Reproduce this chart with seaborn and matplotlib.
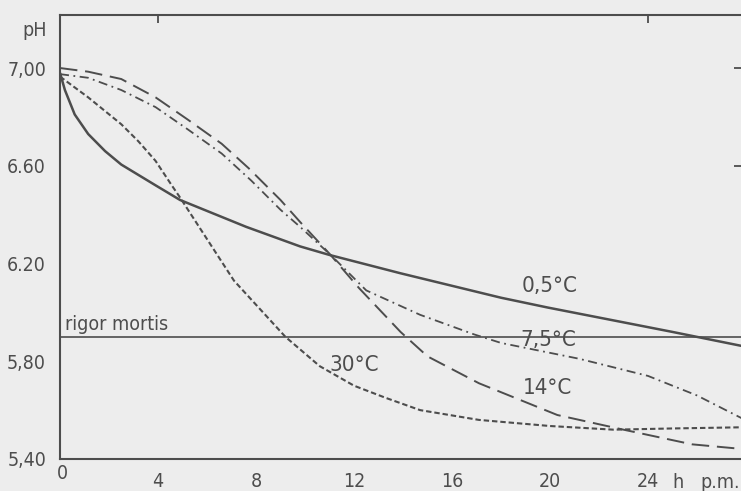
import matplotlib
matplotlib.use("Agg")
import matplotlib.pyplot as plt
import seaborn as sns
import pandas as pd

# --- data (hours post mortem, pH) ---
hours_05 = [0, 0.2, 0.6, 1.15, 1.84, 2.5, 3.9, 4.9, 7.6, 9.8, 11.0, 13.9, 18.0, 19.9, 25.0, 27.96]
ph_05 = [6.98, 6.91, 6.81, 6.73, 6.66, 6.605, 6.52, 6.46, 6.35, 6.27, 6.235, 6.16, 6.06, 6.02, 5.92, 5.86]

hours_75 = [0, 1.15, 2.5, 3.9, 5.2, 6.6, 7.8, 9.0, 9.8, 11.1, 12.5, 14.7, 16.9, 18.0, 21.2, 24.0, 26.0, 27.96]
ph_75 = [6.975, 6.96, 6.91, 6.84, 6.75, 6.65, 6.54, 6.42, 6.35, 6.23, 6.09, 5.99, 5.91, 5.875, 5.81, 5.74, 5.66, 5.56]

hours_14 = [0, 1.15, 2.5, 3.9, 5.2, 6.6, 7.7, 9.0, 9.8, 11.0, 12.2, 13.9, 15.0, 17.1, 20.3, 23.0, 25.8, 27.96]
ph_14 = [7.00, 6.985, 6.955, 6.88, 6.79, 6.69, 6.59, 6.46, 6.37, 6.24, 6.10, 5.92, 5.82, 5.71, 5.58, 5.52, 5.46, 5.44]

hours_30 = [0, 1.15, 2.5, 3.2, 3.9, 4.56, 4.9, 7.1, 9.2, 10.6, 12.0, 13.3, 14.7, 17.1, 20.0, 22.6, 25.0, 27.96]
ph_30 = [6.965, 6.88, 6.77, 6.70, 6.62, 6.52, 6.47, 6.13, 5.90, 5.78, 5.70, 5.65, 5.60, 5.56, 5.535, 5.52, 5.525, 5.53]

rigor_ph = 5.90

xticks = [0, 4, 8, 12, 16, 20, 24]
xtick_labels = ["0", "4", "8", "12", "16", "20", "24"]
yticks = [5.40, 5.80, 6.20, 6.60, 7.00]
ytick_labels = ["5,40", "5,80", "6.20", "6.60", "7,00"]

# curve labels: (text, x, y)
curve_labels = [("0,5°C", 18.85, 6.11), ("7,5°C", 18.8, 5.885),
                ("14°C", 18.9, 5.69), ("30°C", 11.0, 5.785)]

df = pd.concat([
    pd.DataFrame({"hours": hours_05, "ph": ph_05, "temp": "0.5"}),
    pd.DataFrame({"hours": hours_75, "ph": ph_75, "temp": "7.5"}),
    pd.DataFrame({"hours": hours_14, "ph": ph_14, "temp": "14"}),
    pd.DataFrame({"hours": hours_30, "ph": ph_30, "temp": "30"}),
])

ink = "#4d4d4d"
bg = "#ededed"

sns.set_style("white")
plt.rcParams["font.family"] = ["DejaVu Sans"]
plt.rcParams["font.stretch"] = "condensed"

fig = plt.figure(figsize=(7.41, 4.91), dpi=100, facecolor=bg)
ax = fig.add_axes([60 / 741, 32 / 491, 685 / 741, 444 / 491], facecolor=bg)

# line styles: solid, dash-dot, long dash, short dash
sns.lineplot(data=df, x="hours", y="ph", style="temp", size="temp",
             dashes={"0.5": "", "7.5": (5, 2.5, 1, 2.5), "14": (9, 4), "30": (2.6, 1.4)},
             sizes={"0.5": 1.8, "7.5": 1.3, "14": 1.4, "30": 1.5},
             color=ink, sort=False, estimator=None, legend=False, ax=ax)

ax.axhline(rigor_ph, color=ink, lw=1.2)
ax.text(0.2, rigor_ph + 0.012, "rigor mortis", color=ink, fontsize=14, va="bottom")

for txt, x, y in curve_labels:
    ax.text(x, y, txt, color=ink, fontsize=16, va="center", ha="left")

ax.set_xlim(0, 685 / 24.5)
ax.set_ylim(5.40, 7.217)
ax.set_xticks(xticks[1:])
ax.set_xticklabels(xtick_labels[1:])
ax.text(xticks[0] + 0.1, 5.34, xtick_labels[0], color=ink, fontsize=14, ha="center", va="center")
ax.set_yticks(yticks)
ax.set_yticklabels(ytick_labels)
ax.set_xlabel("")
ax.set_ylabel("")
ax.tick_params(axis="both", colors=ink, labelcolor=ink, labelsize=14, width=1.3)
ax.tick_params(axis="x", direction="out", length=6.5, pad=3)
ax.tick_params(axis="y", direction="out", length=7, pad=3)

for side in ["left", "bottom", "top"]:
    ax.spines[side].set_color(ink)
    ax.spines[side].set_linewidth(1.5)
ax.spines["right"].set_visible(False)

top = ax.secondary_xaxis("top")
top.set_xticks([4, 24])
top.set_xticklabels([])
top.tick_params(direction="in", length=6, width=1.3, colors=ink)
top.spines["top"].set_visible(False)

right = ax.secondary_yaxis("right")
right.set_yticks([6.60, 7.00])
right.set_yticklabels([])
right.tick_params(direction="in", length=8, width=1.3, colors=ink)
right.spines["right"].set_visible(False)

fig.text(35 / 741, 1 - 31 / 491, "pH", color=ink, fontsize=14, ha="center", va="center")
fig.text(678 / 741, 1 - 482 / 491, "h", color=ink, fontsize=14, ha="center", va="center")
fig.text(700 / 741, 1 - 482 / 491, "p.m.", color=ink, fontsize=14, ha="left", va="center")

fig.savefig("out.png", dpi=100, facecolor=bg)
